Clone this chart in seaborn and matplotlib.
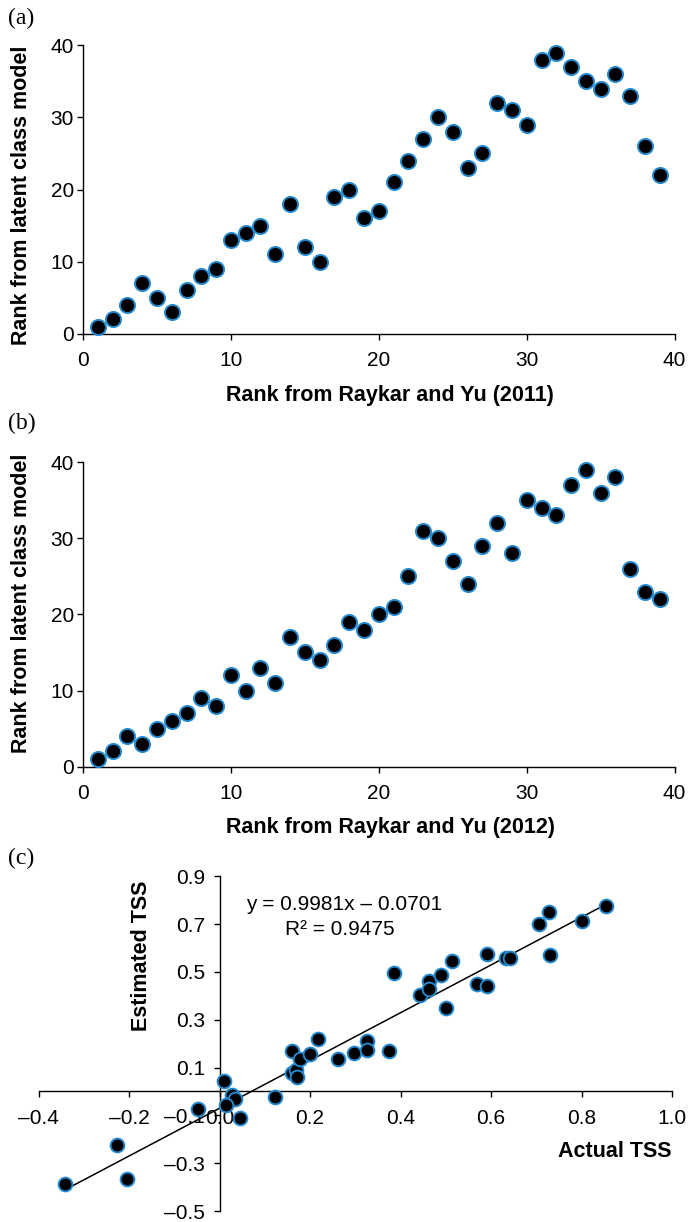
import numpy as np
import pandas as pd
import matplotlib
matplotlib.use("Agg")
import matplotlib.pyplot as plt
import seaborn as sns
from matplotlib.ticker import FuncFormatter

# ---------------- data ----------------
rank_raykar_2011 = list(range(1, 40))
rank_latent_a = [1, 2, 4, 7, 5, 3, 6, 8, 9, 13, 14, 15, 11, 18, 12, 10, 19, 20, 16, 17,
                 21, 24, 27, 30, 28, 23, 25, 32, 31, 29, 38, 39, 37, 35, 34, 36, 33, 26, 22]

rank_raykar_2012 = list(range(1, 40))
rank_latent_b = [1, 2, 4, 3, 5, 6, 7, 9, 8, 12, 10, 13, 11, 17, 15, 14, 16, 19, 18, 20,
                 21, 25, 31, 30, 27, 24, 29, 32, 28, 35, 34, 33, 37, 39, 36, 38, 26, 23, 22]

actual_tss = [-0.342, -0.226, -0.205, -0.047, 0.010, 0.027, 0.034, 0.013, 0.044, 0.122,
              0.160, 0.161, 0.169, 0.172, 0.178, 0.200, 0.218, 0.261, 0.297, 0.326,
              0.325, 0.374, 0.385, 0.442, 0.462, 0.463, 0.490, 0.500, 0.513, 0.569,
              0.592, 0.592, 0.634, 0.641, 0.707, 0.727, 0.730, 0.800, 0.855]
estimated_tss = [-0.389, -0.226, -0.368, -0.075, 0.045, -0.016, -0.031, -0.057, -0.111, -0.024,
                 0.167, 0.078, 0.089, 0.062, 0.137, 0.157, 0.218, 0.134, 0.159, 0.211,
                 0.172, 0.167, 0.495, 0.404, 0.460, 0.428, 0.487, 0.347, 0.546, 0.449,
                 0.440, 0.574, 0.556, 0.558, 0.702, 0.752, 0.572, 0.712, 0.774]

fit_slope = 0.9981
fit_intercept = -0.0701
fit_r2 = 0.9475

rank_ticks = [0, 10, 20, 30, 40]
tss_xticks = [-0.4, -0.2, 0.0, 0.2, 0.4, 0.6, 0.8, 1.0]
tss_yticks = [-0.5, -0.3, -0.1, 0.1, 0.3, 0.5, 0.7, 0.9]

# ---------------- style ----------------
sns.set_theme(style="ticks")
plt.rcParams["font.family"] = ["Liberation Sans", "DejaVu Sans"]

FACE = "black"
EDGE = "#2488cf"
TICK_FS = 15
LABEL_FS = 15.5

fig = plt.figure(figsize=(6.9, 12.22), dpi=100)
axA = fig.add_axes([0.1203, 0.7269, 0.8574, 0.2360])
axB = fig.add_axes([0.1203, 0.3726, 0.8574, 0.2493])
axC = fig.add_axes([0.0561, 0.0090, 0.9178, 0.2740])

dfA = pd.DataFrame({"x": rank_raykar_2011, "y": rank_latent_a})
dfB = pd.DataFrame({"x": rank_raykar_2012, "y": rank_latent_b})
dfC = pd.DataFrame({"x": actual_tss, "y": estimated_tss})


def style_rank_axes(ax, xlabel, label_y):
    ax.set_xlim(0, 40)
    ax.set_ylim(0, 40)
    ax.set_xticks(rank_ticks)
    ax.set_yticks(rank_ticks)
    for s in ["top", "right"]:
        ax.spines[s].set_visible(False)
    for s in ["left", "bottom"]:
        ax.spines[s].set_linewidth(1.0)
        ax.spines[s].set_color("black")
    ax.tick_params(axis="both", labelsize=TICK_FS, length=4.5, width=1.0,
                   color="black", labelcolor="black", direction="out")
    ax.tick_params(axis="x", pad=8)
    ax.tick_params(axis="y", pad=2)
    ax.set_xlabel(xlabel, fontsize=LABEL_FS, fontweight="bold", color="black")
    ax.set_ylabel("Rank from latent class model", fontsize=LABEL_FS,
                  fontweight="bold", color="black")
    ax.xaxis.label.set_va("center")
    ax.xaxis.set_label_coords(0.519, label_y)
    ax.yaxis.label.set_va("center")
    ax.yaxis.label.set_ha("center")
    ax.grid(False)


for ax, df in [(axA, dfA), (axB, dfB)]:
    sns.scatterplot(data=df, x="x", y="y", ax=ax, color=FACE, edgecolor=EDGE,
                    linewidth=1.4, s=118, clip_on=False, zorder=5, legend=False)

style_rank_axes(axA, "Rank from Raykar and Yu (2011)", -0.2126)
axA.yaxis.set_label_coords(-0.1035, 0.481)
style_rank_axes(axB, "Rank from Raykar and Yu (2012)", -0.201)
axB.yaxis.set_label_coords(-0.1035, 0.536)

# ---------------- panel (c) ----------------
x_line = np.array([min(actual_tss), max(actual_tss)])
dfLine = pd.DataFrame({"x": x_line, "y": fit_slope * x_line + fit_intercept})
sns.lineplot(data=dfLine, x="x", y="y", ax=axC, color="black", linewidth=1.1,
             zorder=4, legend=False)
sns.scatterplot(data=dfC, x="x", y="y", ax=axC, color=FACE, edgecolor=EDGE,
                linewidth=1.4, s=98, clip_on=False, zorder=5, legend=False)

axC.set_xlim(-0.4, 1.0)
axC.set_ylim(-0.5, 0.9)
axC.set_xticks(tss_xticks)
axC.set_yticks(tss_yticks)
fmt = FuncFormatter(lambda v, p: ("%.1f" % v).replace("-", "\u2013") if abs(v) > 1e-9 else "0.0")
axC.xaxis.set_major_formatter(fmt)
axC.yaxis.set_major_formatter(fmt)
for s in ["top", "right"]:
    axC.spines[s].set_visible(False)
axC.spines["left"].set_position(("data", 0))
axC.spines["bottom"].set_position(("data", 0))
for s in ["left", "bottom"]:
    axC.spines[s].set_linewidth(1.0)
    axC.spines[s].set_color("black")
axC.tick_params(axis="both", labelsize=TICK_FS, length=4.5, width=1.0,
                color="black", labelcolor="black", direction="out")
axC.tick_params(axis="x", pad=8)
axC.tick_params(axis="y", pad=6)
axC.grid(False)
axC.set_xlabel("Actual TSS", fontsize=LABEL_FS, fontweight="bold", color="black")
axC.xaxis.label.set_ha("right")
axC.xaxis.label.set_va("center")
axC.xaxis.set_label_coords(1.0, 0.179)
axC.set_ylabel("Estimated TSS", fontsize=LABEL_FS, fontweight="bold", color="black")
axC.yaxis.label.set_va("center")
axC.yaxis.label.set_ha("center")
axC.yaxis.set_label_coords(0.163, 0.763)

axC.text(0.0575, 0.78, "y = %.4fx \u2013 %.4f" % (fit_slope, -fit_intercept),
         fontsize=TICK_FS, ha="left", va="center", color="black")
axC.text(0.144, 0.675, "R\u00b2 = %.4f" % fit_r2,
         fontsize=TICK_FS, ha="left", va="center", color="black")

# panel letters
for letter, ypix in [("(a)", 18), ("(b)", 423), ("(c)", 858)]:
    fig.text(8 / 690, 1 - ypix / 1222, letter, family="Liberation Serif",
             fontsize=17, ha="left", va="center", color="black")

fig.savefig("out.png", dpi=100)
